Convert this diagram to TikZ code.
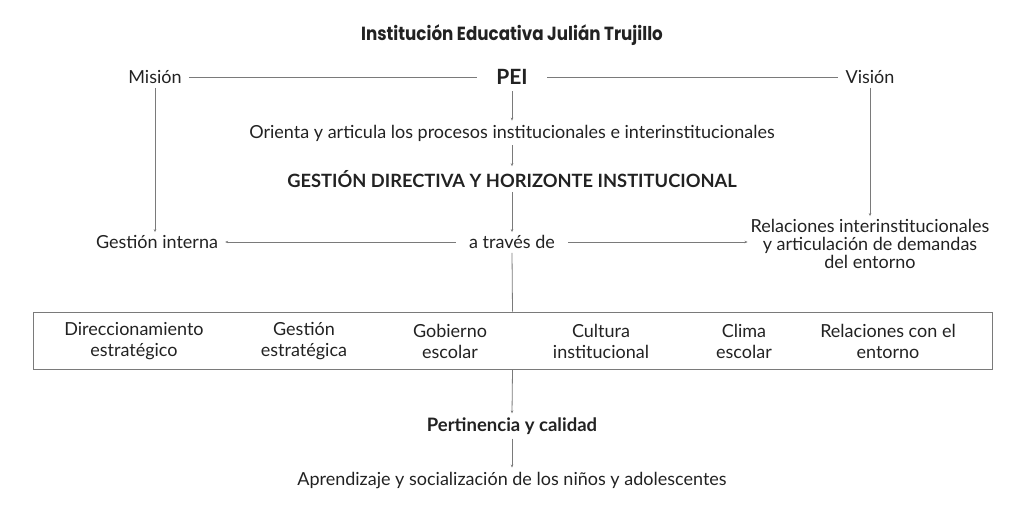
\documentclass[tikz,border=0pt]{standalone}
\usepackage{fontspec}
\setmainfont{Lato}
\newfontfamily\titlefont{Poppins}[UprightFont=* Bold,BoldFont=* Bold]
\usetikzlibrary{arrows.meta}
\definecolor{ln}{HTML}{7A7A7A}
\definecolor{tx}{HTML}{222222}
\begin{document}
\begin{tikzpicture}[x=1pt,y=-1pt,
  lbl/.style={text=tx,font=\fontsize{18}{21}\selectfont,inner sep=1pt,align=center},
  blbl/.style={lbl,font=\fontsize{18.3}{21}\selectfont\bfseries},
  conn/.style={draw=ln,line width=0.8pt},
  arr/.style={conn,-{Stealth[length=3pt,width=2.5pt]}}]
\useasboundingbox (0,0) rectangle (1024,525);
\node[text=tx,font=\titlefont\fontsize{19}{22}\selectfont,xscale=0.88,transform shape] (title) at (512,35) {Institución Educativa Julián Trujillo};
\node[lbl] (mis) at (155,77) {Misión};
\node[text=tx,font=\fontsize{21}{24}\selectfont\bfseries] (pei) at (512,77) {PEI};
\node[lbl] (vis) at (870,77) {Visión};
\node[lbl] (ori) at (512,133) {Orienta y articula los procesos institucionales e interinstitucionales};
\node[blbl] (ges) at (512,179) {GESTIÓN DIRECTIVA Y HORIZONTE INSTITUCIONAL};
\node[lbl] (gi) at (157,242) {Gestión interna};
\node[lbl] (at) at (512,242) {a través de};
\node[lbl,font=\fontsize{18}{18}\selectfont] (rel) at (870,244) {Relaciones interinstitucionales\\y articulación de demandas\\del entorno};
\node[draw=ln,line width=0.8pt,minimum width=959pt,minimum height=57pt,inner sep=0pt] (box) at (512.5,340.5) {};
\node[lbl,font=\fontsize{18}{21}\selectfont] (b1) at (134,341) {Direccionamiento\\estratégico};
\node[lbl,font=\fontsize{18}{21}\selectfont] (b2) at (304,341) {Gestión\\estratégica};
\node[lbl,font=\fontsize{18}{21}\selectfont] (b3) at (450,341) {Gobierno\\escolar};
\node[lbl,font=\fontsize{18}{21}\selectfont] (b4) at (601,341) {Cultura\\institucional};
\node[lbl,font=\fontsize{18}{21}\selectfont] (b5) at (744,341) {Clima\\escolar};
\node[lbl,font=\fontsize{18}{21}\selectfont] (b6) at (888,341) {Relaciones con el\\entorno};
\node[blbl,font=\fontsize{18.5}{21}\selectfont\bfseries] (per) at (512,426) {Pertinencia y calidad};
\node[lbl] (apr) at (512,480) {Aprendizaje y socialización de los niños y adolescentes};
% connectors
\draw[conn] ([xshift=6pt]mis.east) -- ([xshift=-16pt]pei.west);
\draw[conn] ([xshift=16pt]pei.east) -- ([xshift=-6pt]vis.west);
\draw[arr] ([yshift=-3pt]pei.south) -- ([yshift=3pt]ori.north);
\draw[arr] ([yshift=-3pt]ori.south) -- ([yshift=3pt]ges.north);
\draw[arr] ([yshift=-3pt]ges.south) -- ([yshift=2pt]at.north);
\draw[arr] ([yshift=-3pt]mis.south) -- ([yshift=2pt]mis.south |- gi.north);
\draw[arr] ([yshift=-3pt]vis.south) -- ([yshift=2pt]vis.south |- rel.north);
\draw[arr] ([xshift=-12pt]at.west) -- ([xshift=6pt]gi.east);
\draw[arr] ([xshift=12pt]at.east) -- ([xshift=-2pt]at.east -| rel.west);
\draw[conn] ([yshift=-3pt]at.south) -- (box.north);
\draw[arr] (box.south) -- ([yshift=3pt]per.north);
\draw[arr] ([yshift=-3pt]per.south) -- ([yshift=3pt]apr.north);
\end{tikzpicture}
\end{document}
